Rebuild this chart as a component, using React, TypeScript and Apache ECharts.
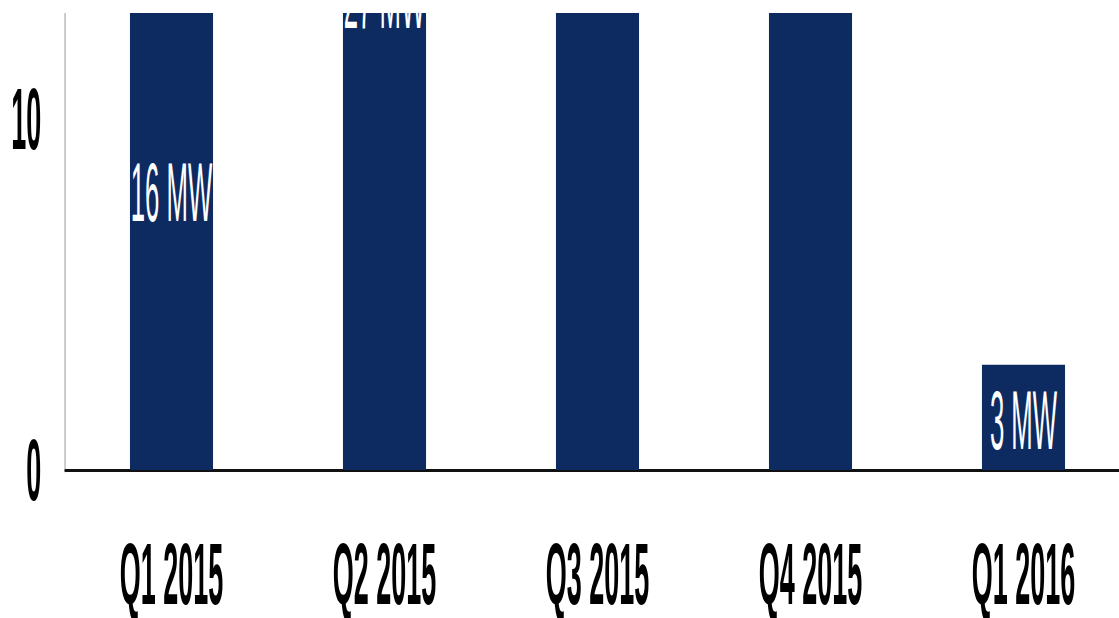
import React, { useEffect, useRef } from "react";
import * as echarts from "echarts";

// Data
const categories = ["Q1 2015", "Q2 2015", "Q3 2015", "Q4 2015", "Q1 2016"];
const capacityMW = [16, 27, 33, 40, 3];
const yAxisInterval = 10;

// Layout (the reference text is very narrow, so the whole chart is squeezed horizontally)
const SX = 0.31;
const PAGE_W = 1119;
const VIEW_TOP = 13;
const VIEW_H = 618 - VIEW_TOP;
const CHART_W = 3700;
const GRID_H = 468.5;
const PX_PER_UNIT = 36;
const yAxisMax = GRID_H / PX_PER_UNIT;

export default function App() {
  const ref = useRef<HTMLDivElement>(null);

  useEffect(() => {
    if (!ref.current) return;
    const chart = echarts.init(ref.current, null, { renderer: "svg" });
    const font = "'Liberation Sans', Arial, sans-serif";
    chart.setOption({
      animation: false,
      backgroundColor: "#ffffff",
      grid: { left: 65 / SX, top: 0, width: 1065 / SX, height: GRID_H, containLabel: false },
      xAxis: {
        type: "category",
        data: categories,
        axisTick: { show: false },
        axisLine: { show: true, lineStyle: { color: "#111111", width: 3 } },
        axisLabel: {
          interval: 0,
          margin: 74.5,
          lineHeight: 60,
          fontSize: 87,
          fontWeight: "bold",
          color: "#000000",
          fontFamily: font,
        },
        splitLine: { show: false },
      },
      yAxis: {
        type: "value",
        min: 0,
        max: yAxisMax,
        interval: yAxisInterval,
        axisLine: { show: true, lineStyle: { color: "#c4c4c4", width: 5.5 } },
        axisTick: { show: false },
        splitLine: { show: false },
        axisLabel: {
          showMaxLabel: false,
          margin: 77,
          fontSize: 87,
          fontWeight: "bold",
          color: "#000000",
          fontFamily: font,
        },
      },
      series: [
        {
          type: "bar",
          data: capacityMW,
          barWidth: "39%",
          clip: false,
          itemStyle: { color: "#0e2b61" },
          label: {
            show: true,
            position: "inside",
            offset: [0, 3],
            formatter: "{c} MW",
            color: "#ffffff",
            fontSize: 83,
            fontFamily: font,
          },
        },
      ],
    });
    return () => chart.dispose();
  }, []);

  return (
    <div
      style={{
        position: "absolute",
        left: 0,
        top: VIEW_TOP,
        width: PAGE_W,
        height: VIEW_H,
        overflow: "hidden",
        background: "#ffffff",
      }}
    >
      <div
        ref={ref}
        style={{
          width: CHART_W,
          height: VIEW_H,
          transform: `scaleX(${SX})`,
          transformOrigin: "0 0",
        }}
      />
    </div>
  );
}
